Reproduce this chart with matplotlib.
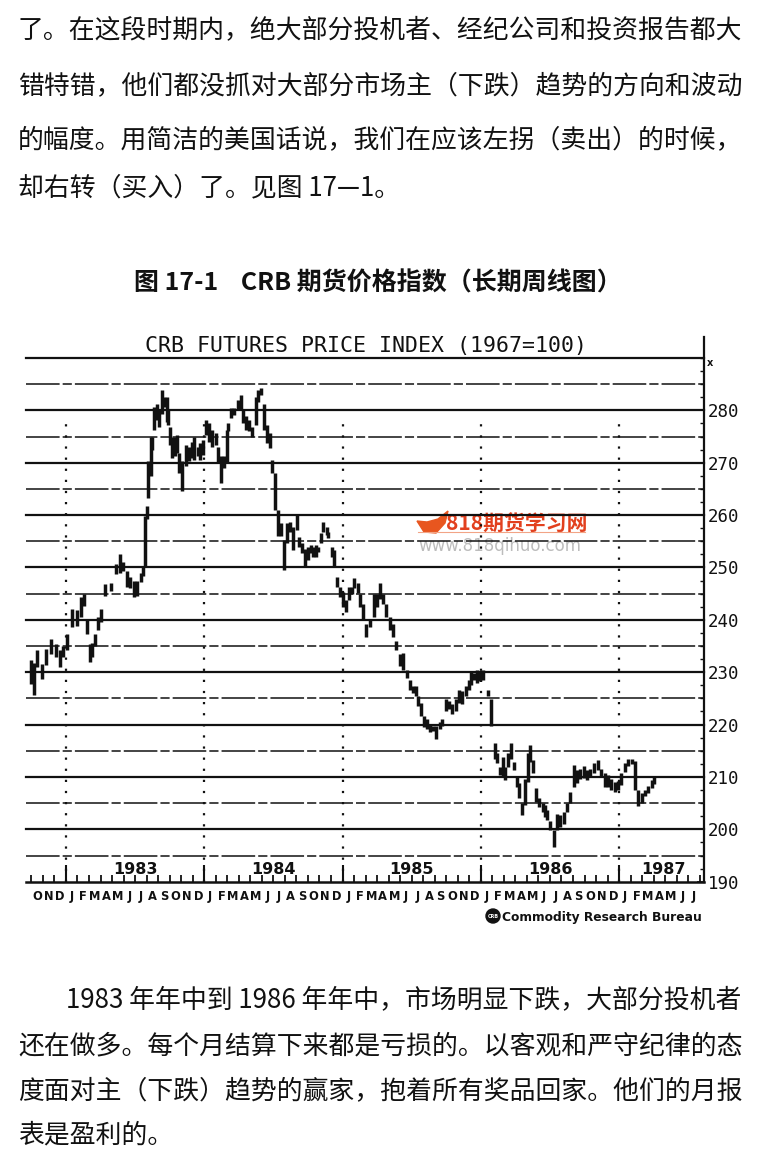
"""Book page with the CRB futures price index weekly bar chart (Fig. 17-1)."""

import matplotlib
matplotlib.use('Agg')
import matplotlib.pyplot as plt
import numpy as np
from matplotlib.patches import Circle, Polygon
from matplotlib.transforms import blended_transform_factory

plt.rcParams['font.family'] = ['Noto Sans CJK SC', 'DejaVu Sans']

# ---- page text ----
TOP_LINES = [
    '了。在这段时期内，绝大部分投机者、经纪公司和投资报告都大',
    '错特错，他们都没抓对大部分市场主（下跌）趋势的方向和波动',
    '的幅度。用简洁的美国话说，我们在应该左拐（卖出）的时候，',
    '却右转（买入）了。见图 17—1。',
]
BOTTOM_LINES = [
    '1983 年年中到 1986 年年中，市场明显下跌，大部分投机者',
    '还在做多。每个月结算下来都是亏损的。以客观和严守纪律的态',
    '度面对主（下跌）趋势的赢家，抱着所有奖品回家。他们的月报',
    '表是盈利的。',
]
CAPTION = '图 17-1    CRB 期货价格指数（长期周线图）'
CHART_TITLE = 'CRB FUTURES PRICE INDEX (1967=100)'
SOURCE = 'Commodity Research Bureau'

# ---- weekly high / low of the index ----
dates = [
    1982.749, 1982.769, 1982.792, 1982.829, 1982.853, 1982.889, 1982.926, 1982.957, 1982.980, 1983.010,
    1983.046, 1983.077, 1983.106, 1983.130, 1983.150, 1983.174, 1983.190, 1983.207, 1983.231, 1983.251,
    1983.284, 1983.323, 1983.359, 1983.390, 1983.414, 1983.439, 1983.463, 1983.492, 1983.513, 1983.542,
    1983.559, 1983.571, 1983.583, 1983.595, 1983.612, 1983.624, 1983.636, 1983.656, 1983.672, 1983.696,
    1983.711, 1983.728, 1983.740, 1983.752, 1983.769, 1983.788, 1983.805, 1983.817, 1983.839, 1983.865,
    1983.887, 1983.909, 1983.928, 1983.952, 1983.969, 1983.988, 1984.010, 1984.034, 1984.058, 1984.082,
    1984.101, 1984.121, 1984.145, 1984.162, 1984.174, 1984.193, 1984.215, 1984.241, 1984.265, 1984.282,
    1984.299, 1984.321, 1984.345, 1984.372, 1984.391, 1984.408, 1984.432, 1984.456, 1984.475, 1984.492,
    1984.511, 1984.535, 1984.552, 1984.578, 1984.600, 1984.620, 1984.644, 1984.668, 1984.685, 1984.706,
    1984.728, 1984.747, 1984.769, 1984.788, 1984.805, 1984.824, 1984.842, 1984.861, 1984.885, 1984.897,
    1984.921, 1984.938, 1984.962, 1984.979, 1985.005, 1985.025, 1985.046, 1985.070, 1985.085, 1985.109,
    1985.128, 1985.150, 1985.167, 1985.196, 1985.225, 1985.249, 1985.273, 1985.294, 1985.316, 1985.341,
    1985.364, 1985.388, 1985.417, 1985.439, 1985.466, 1985.487, 1985.509, 1985.529, 1985.543, 1985.567,
    1985.586, 1985.610, 1985.634, 1985.656, 1985.678, 1985.702, 1985.721, 1985.745, 1985.769, 1985.793,
    1985.818, 1985.842, 1985.865, 1985.890, 1985.914, 1985.928, 1985.952, 1985.969, 1985.993, 1986.017,
    1986.053, 1986.073, 1986.100, 1986.119, 1986.140, 1986.157, 1986.174, 1986.196, 1986.215, 1986.237,
    1986.261, 1986.277, 1986.297, 1986.321, 1986.341, 1986.357, 1986.374, 1986.398, 1986.422, 1986.447,
    1986.463, 1986.480, 1986.502, 1986.526, 1986.550, 1986.574, 1986.599, 1986.623, 1986.646, 1986.671,
    1986.695, 1986.719, 1986.743, 1986.767, 1986.791, 1986.816, 1986.847, 1986.866, 1986.895, 1986.919,
    1986.943, 1986.968, 1986.993, 1987.017, 1987.043, 1987.067, 1987.094, 1987.114, 1987.138, 1987.163,
    1987.187, 1987.211, 1987.236, 1987.253,
]
highs = [
    232.3, 231.7, 234.2, 231.6, 234.5, 236.4, 235.4, 234.2, 235.0, 237.3,
    242.1, 241.8, 244.3, 245.0, 239.9, 235.4, 235.5, 237.3, 240.5, 242.0,
    246.8, 247.0, 250.6, 252.5, 251.0, 249.4, 248.2, 247.5, 247.5, 249.0,
    250.0, 259.8, 261.7, 270.3, 275.0, 275.0, 280.7, 281.3, 280.0, 283.9,
    282.6, 282.6, 280.0, 276.9, 275.0, 275.0, 275.3, 271.8, 270.3, 273.4,
    273.0, 273.9, 275.0, 273.0, 273.7, 274.3, 278.2, 277.6, 276.3, 275.6,
    273.0, 271.2, 271.2, 276.3, 277.6, 280.4, 280.4, 282.0, 282.9, 280.0,
    279.0, 278.2, 276.9, 282.6, 283.9, 284.2, 281.2, 277.2, 275.6, 270.6,
    268.0, 261.0, 258.5, 255.2, 258.4, 258.7, 257.8, 260.0, 255.9, 254.6,
    253.6, 254.0, 254.3, 254.0, 254.3, 254.0, 256.5, 258.7, 257.8, 256.8,
    254.0, 253.3, 248.2, 246.3, 245.4, 243.8, 246.3, 246.3, 247.9, 247.0,
    245.0, 243.1, 239.3, 239.9, 245.0, 245.0, 247.0, 245.0, 243.1, 240.6,
    239.3, 236.0, 233.5, 233.6, 230.5, 228.6, 227.3, 227.3, 225.4, 224.2,
    221.7, 221.0, 220.1, 219.8, 219.8, 220.4, 221.0, 224.8, 224.5, 223.9,
    224.8, 226.7, 226.4, 227.3, 228.6, 230.2, 229.9, 230.5, 230.2, 230.5,
    226.7, 224.8, 216.4, 214.5, 211.9, 213.8, 211.9, 214.5, 216.4, 212.9,
    210.0, 208.8, 205.0, 209.7, 214.5, 216.1, 213.2, 207.8, 205.9, 205.0,
    204.6, 203.7, 201.5, 199.9, 203.0, 202.7, 203.4, 205.0, 207.2, 212.3,
    211.3, 211.6, 212.0, 211.3, 211.6, 212.6, 213.2, 211.6, 210.7, 210.4,
    209.7, 209.0, 209.3, 210.7, 212.6, 213.5, 213.4, 213.0, 207.6, 206.9,
    207.6, 208.3, 209.5, 210.2,
]
lows = [
    227.8, 225.6, 231.0, 228.8, 231.3, 233.5, 232.9, 231.0, 233.0, 234.2,
    238.6, 238.9, 240.5, 242.7, 237.3, 232.0, 233.0, 235.1, 238.0, 239.6,
    244.6, 245.6, 248.7, 249.0, 249.4, 246.2, 246.0, 244.3, 244.6, 247.2,
    248.4, 250.0, 259.2, 263.3, 267.4, 272.5, 276.3, 278.2, 276.8, 279.4,
    280.7, 277.8, 277.2, 273.4, 270.9, 271.2, 271.8, 268.0, 264.6, 269.3,
    270.3, 270.9, 270.6, 271.2, 270.6, 271.5, 275.3, 273.9, 273.1, 273.4,
    269.9, 266.1, 269.0, 269.9, 276.0, 278.5, 279.1, 280.0, 280.0, 277.5,
    276.3, 276.0, 275.0, 277.2, 281.6, 282.9, 276.3, 273.7, 272.8, 268.0,
    261.0, 256.0, 256.0, 249.5, 254.6, 256.8, 253.3, 257.1, 254.0, 252.7,
    250.1, 251.5, 252.7, 252.0, 252.0, 253.0, 254.6, 256.8, 256.2, 255.6,
    252.0, 250.1, 246.3, 244.4, 242.5, 241.5, 243.8, 245.0, 246.0, 245.1,
    242.5, 239.9, 236.8, 238.6, 240.6, 242.5, 244.0, 243.1, 240.6, 238.0,
    236.8, 234.2, 231.1, 230.5, 228.9, 226.7, 226.1, 225.4, 223.6, 221.7,
    219.5, 219.2, 218.5, 218.8, 217.3, 219.2, 219.8, 222.6, 223.0, 222.0,
    222.6, 224.2, 224.0, 225.4, 226.7, 227.6, 228.6, 228.0, 228.3, 228.6,
    225.4, 219.8, 213.5, 212.6, 210.3, 210.0, 209.4, 211.9, 213.5, 211.3,
    208.1, 205.9, 202.7, 204.6, 209.1, 212.9, 210.7, 205.3, 204.3, 203.4,
    202.4, 201.8, 199.9, 196.7, 199.9, 200.5, 201.1, 203.4, 205.0, 208.1,
    208.8, 209.7, 209.8, 209.4, 210.0, 210.7, 211.3, 210.0, 208.1, 208.1,
    207.5, 207.2, 207.5, 208.4, 211.0, 212.0, 212.4, 207.6, 204.4, 205.0,
    206.3, 207.0, 207.9, 208.6,
]

year_starts = [1983, 1984, 1985, 1986, 1987]
year_labels = ['1983', '1984', '1985', '1986', '1987']
year_label_pos = [1983.5, 1984.5, 1985.5, 1986.5, 1987.32]
month_letters = 'JFMAMJJASOND'
y_ticks = list(range(190, 290, 10))

INK = '#111111'

fig = plt.figure(figsize=(7.58, 11.54), dpi=100)

# page layer in pixel coordinates
page = fig.add_axes([0, 0, 1, 1])
page.set_xlim(0, 758)
page.set_ylim(1154, 0)
page.axis('off')

body = dict(fontsize=18.6, color=INK, va='center', ha='left')
for y, line in zip([30, 86, 140, 188], TOP_LINES):
    page.text(18, y, line, **body)
page.text(66, 1000, BOTTOM_LINES[0], **body)
for y, line in zip([1046, 1091, 1135], BOTTOM_LINES[1:]):
    page.text(18, y, line, **body)

page.text(378, 283, CAPTION, fontsize=18, fontweight='bold', color=INK,
          ha='center', va='center')
page.text(366, 346, CHART_TITLE, family='DejaVu Sans Mono', fontsize=15.5,
          color=INK, ha='center', va='center')

# source logo
page.add_patch(Circle((493, 916), 7, color=INK))
page.text(493, 916, 'CRB', fontsize=3.5, color='white', ha='center', va='center',
          family='DejaVu Sans', fontweight='bold')
page.text(502, 917, SOURCE, family='DejaVu Sans', fontsize=8.8, fontweight='bold',
          color=INK, ha='left', va='center')

# ---- chart ----
ax = fig.add_axes([26 / 758, (1154 - 881.7) / 1154, (704 - 26) / 758, (881.7 - 358) / 1154])
ax.set_xlim(1982.711, 1987.614)
ax.set_ylim(190, 290)
ax.patch.set_alpha(0)

for v in np.arange(195, 291, 5):
    if v % 10 == 0:
        ax.axhline(v, color=INK, lw=1.6, clip_on=False, zorder=1)
    else:
        ax.axhline(v, color=INK, lw=1.1, ls=(0, (22, 2, 6, 2)), clip_on=False, zorder=1)

ax.vlines(year_starts, 190, 279, colors=INK, linestyles=(0, (1, 4)), lw=1.6, zorder=1)

ax.vlines(dates, lows, highs, colors=INK, lw=2.5, zorder=3)

for s in ('left', 'top', 'right'):
    ax.spines[s].set_visible(False)
ax.spines['bottom'].set_linewidth(1.8)
ax.spines['bottom'].set_color(INK)
ax.plot([1, 1], [0, 1.04], transform=ax.transAxes, color=INK, lw=1.6, clip_on=False)

ax.yaxis.tick_right()
ax.set_yticks(y_ticks)
ax.set_yticklabels([str(t) for t in y_ticks], family='DejaVu Sans Mono')
ax.set_yticks(np.arange(190, 291, 2.5), minor=True)
ax.tick_params(axis='y', which='major', direction='in', length=5, width=1.2,
               pad=3, labelsize=12.5, colors=INK)
ax.tick_params(axis='y', which='minor', direction='in', length=3, width=1.0, colors=INK)
ax.text(1.004, 0.99, 'x', transform=ax.transAxes, fontsize=7, fontweight='bold',
        family='DejaVu Sans', ha='left', va='center', color=INK)

month_starts = [y + (m - 1) / 12 for y in range(1982, 1988) for m in range(1, 13)]
ax.set_xticks(year_starts)
ax.set_xticks([m for m in month_starts if 1982.711 < m < 1987.614], minor=True)
ax.tick_params(axis='x', which='major', direction='in', length=12, width=1.5,
               labelbottom=False, colors=INK)
ax.tick_params(axis='x', which='minor', direction='in', length=5, width=1.3, colors=INK)

for pos, lab in zip(year_label_pos, year_labels):
    ax.text(pos, 192.3, lab, family='DejaVu Sans', fontweight='bold', fontsize=11.5,
            ha='center', va='center', color=INK, zorder=4)

trans = blended_transform_factory(ax.transData, ax.transAxes)
for y in range(1982, 1988):
    for m in range(1, 13):
        c = y + (m - 0.5) / 12
        if 1982.711 < c < 1987.614:
            ax.text(c, -0.028, month_letters[m - 1], transform=trans, family='DejaVu Sans',
                    fontweight='bold', fontsize=8.3, ha='center', va='center', color=INK)

# watermark of the scanned page
page.add_patch(Polygon([(417, 521), (424, 532), (436, 533), (445, 523), (448, 511),
                        (438, 519), (427, 522)], closed=True, color='#e8561f', zorder=5))
page.plot([418, 585], [532, 532], color='#f2a486', lw=0.8, zorder=5)
page.text(446, 523, '818期货学习网', fontsize=15, fontweight='bold', color='#e2401e',
          ha='left', va='center', zorder=5)
page.text(500, 546, 'www.818qihuo.com', family='DejaVu Sans', fontsize=12,
          color='#bcbcbc', ha='center', va='center', zorder=5)

fig.savefig('out.png', dpi=100)
